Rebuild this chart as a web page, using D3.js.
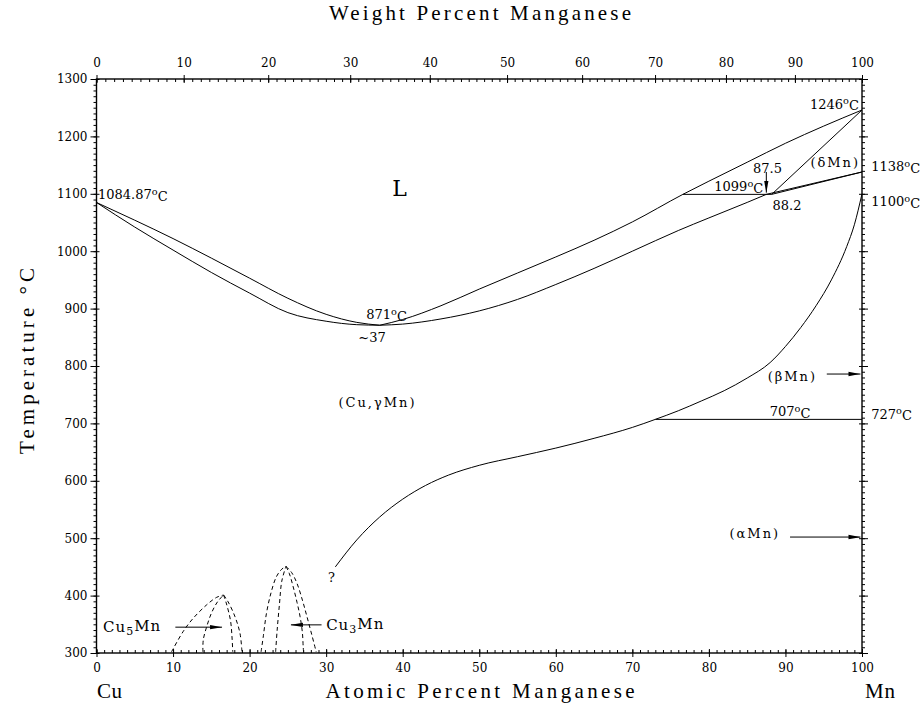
<!DOCTYPE html>
<style>
body { margin: 0; background: #fff; }
svg { font-family: "DejaVu Serif", serif; }
.axis line { stroke: #000; }
.axis text { font: 12px "DejaVu Serif", serif; fill: #000; }
.curve { fill: none; stroke: #000; stroke-width: 1; }
.dash { stroke-dasharray: 4,3; }
.note { font-size: 13px; fill: #000; }
.big { font: 21px "Liberation Serif", serif; fill: #000; }
</style>
<script src="https://cdnjs.cloudflare.com/ajax/libs/d3/7.8.5/d3.min.js"></script>
<svg width="922" height="710"></svg>
<script>
// ticks
var atTicks = [0, 10, 20, 30, 40, 50, 60, 70, 80, 90, 100];
var wtTicks = [0, 10, 20, 30, 40, 50, 60, 70, 80, 90, 100];
var tempTicks = [300, 400, 500, 600, 700, 800, 900, 1000, 1100, 1200, 1300];

// boundaries, [at% Mn, T in C]
var liquidusLeft = [[0,1084.87],[5,1054],[10,1022],[15,988],[20,953],[25,918],[30,890],[34,876],[37,871]];
var liquidusRight = [[37,871],[40,881],[45,905],[50,934],[55,962],[60,990],[65,1019],[70,1051],[76.6,1099],
  [80,1122],[85,1155],[90,1188],[95,1218],[100,1246]];
var solidusLeft = [[0,1084.87],[5,1042],[10,1002],[15,963],[20,927],[25,893],[30,878],[34,872],[37,871]];
var solidusRight = [[37,871],[40,873],[45,882],[50,896],[55,916],[60,942],[65,970],[70,1000],[76,1036],
  [80,1058],[85,1085],[87.5,1099]];
var deltaSolidus = [[88.2,1099],[100,1246]];
var deltaGamma1 = [[87.5,1099],[100,1138]];
var deltaGamma2 = [[88.2,1099],[100,1138]];
var peritectic = [[76.6,1099],[88.2,1099]];
var eutectoid = [[73,707],[100,707]];
var gammaBeta = [[31.2,450],[34,497],[37,537],[40,568],[43,592],[46,610],[50,627],[55,642],[60,657],[65,674],
  [70,693],[73,707],[76,722],[79,739],[82,757],[85,779],[88,806],[90,834],[92,867],[94,905],[96,950],[98,1008],[99,1046],[100,1100]];

// ordered phases (dashed)
var cu5mnOuterL = [[9.8,302],[11.3,337],[12.6,360],[14.4,384],[15.7,397],[16.6,401]];
var cu5mnOuterR = [[16.6,401],[17.2,389],[18.1,363],[18.75,334],[19,302]];
var cu5mnInnerL = [[13.9,302],[13.95,323],[14.4,346],[15,369],[15.8,389],[16.6,401]];
var cu5mnInnerR = [[16.6,401],[16.95,387],[17.5,357],[17.7,328],[17.8,302]];
var cu3mnOuterL = [[21.5,302],[21.8,330],[22.2,369],[22.8,405],[23.5,433],[24.2,446],[24.75,451]];
var cu3mnInnerL = [[23.4,302],[23.6,340],[23.9,385],[24.2,425],[24.75,451]];
var cu3mnInnerR = [[24.75,451],[25.2,438],[25.7,415],[26.2,388],[26.6,363],[26.9,335],[27,311],[27.05,302]];
var cu3mnOuterR = [[24.75,451],[25.5,440],[26.2,421],[26.9,392],[27.5,363],[28.1,333],[28.7,302]];

// labels [text, at%, T, anchor]
var labels = [
  ["1084.87°C", 0.2, 1098, "start"],
  ["1246°C", 99.6, 1256, "end"],
  ["1138°C", 101.2, 1147, "start"],
  ["1100°C", 101.2, 1086, "start"],
  ["(δMn)", 96.5, 1154, "middle"],
  ["87.5", 87.65, 1145, "middle"],
  ["1099°C", 83.9, 1112, "middle"],
  ["88.2", 90.2, 1079, "middle"],
  ["871°C", 37.9, 889, "middle"],
  ["~37", 36, 850, "middle"],
  ["(Cu,γMn)", 36.7, 737, "middle"],
  ["(βMn)", 90.9, 781, "middle"],
  ["707°C", 90.6, 720, "middle"],
  ["727°C", 101.2, 716, "start"],
  ["(αMn)", 86, 509, "middle"],
  ["?", 30.7, 432, "middle"]
];
var arrows = [[[95.4,786],[99.8,786]], [[90.6,502],[99.8,502]], [[10.3,345],[16.4,345]], [[29.4,349],[25.4,349]], [[87.5,1138],[87.5,1102]]];

var svg = d3.select("svg");

var x = d3.scaleLinear().domain([0, 100]).range([96.5, 862]),
    y = d3.scaleLinear().domain([300, 1300]).range([653, 79]);

function wt2at(w) {
  var m = w / 54.938, c = (100 - w) / 63.546;
  return 100 * m / (m + c);
}

function axis(gen, tx, ty, vals, size, fmt) {
  var a = gen.tickValues(vals).tickSize(size).tickSizeOuter(0);
  if (fmt) a.tickFormat(fmt); else a.tickFormat("");
  svg.append("g").attr("class", "axis")
      .attr("transform", "translate(" + tx + "," + ty + ")")
      .call(a)
      .call(function(g) { g.select(".domain").remove(); });
  return a;
}

var x0 = x(0), x1 = x(100), yb = y(300), yt = y(1300);

// bottom: atomic percent
axis(d3.axisBottom(x).tickPadding(6), 0, yb, atTicks, 4, d3.format("d"));
axis(d3.axisTop(x), 0, yb, atTicks, 4);
axis(d3.axisTop(x), 0, yb, d3.range(0, 101, 1), 3);

// top: weight percent
axis(d3.axisTop(x).tickPadding(8), 0, yt, wtTicks.map(wt2at), 4, function(d, i) { return wtTicks[i]; });
axis(d3.axisBottom(x), 0, yt, wtTicks.map(wt2at), 4);
axis(d3.axisBottom(x), 0, yt, d3.range(0, 101, 1).map(wt2at), 3);

// left and right: temperature
axis(d3.axisLeft(y).tickPadding(3), x0, 0, tempTicks, 6, d3.format("d"));
axis(d3.axisRight(y), x0, 0, tempTicks, 3);
axis(d3.axisLeft(y), x0, 0, d3.range(300, 1301, 10), 3);
axis(d3.axisRight(y), x1, 0, tempTicks, 6);
axis(d3.axisLeft(y), x1, 0, tempTicks, 3);
axis(d3.axisRight(y), x1, 0, d3.range(300, 1301, 10), 3);

svg.append("rect")
    .attr("x", x0).attr("y", yt)
    .attr("width", x1 - x0).attr("height", yb - yt)
    .attr("fill", "none").attr("stroke", "#000").attr("stroke-width", 1.4);

var smooth = d3.line().x(function(d) { return x(d[0]); }).y(function(d) { return y(d[1]); })
    .curve(d3.curveMonotoneX);
var round = d3.line().x(function(d) { return x(d[0]); }).y(function(d) { return y(d[1]); })
    .curve(d3.curveCatmullRom.alpha(0.5));
var straight = d3.line().x(function(d) { return x(d[0]); }).y(function(d) { return y(d[1]); });

[liquidusLeft, liquidusRight, solidusLeft, solidusRight, gammaBeta].forEach(function(d) {
  svg.append("path").attr("class", "curve").attr("d", smooth(d));
});
[deltaSolidus, deltaGamma1, deltaGamma2, peritectic, eutectoid].forEach(function(d) {
  svg.append("path").attr("class", "curve").attr("d", straight(d));
});
[cu5mnOuterL, cu5mnOuterR, cu5mnInnerL, cu5mnInnerR, cu3mnOuterL, cu3mnOuterR, cu3mnInnerL, cu3mnInnerR].forEach(function(d) {
  svg.append("path").attr("class", "curve dash").attr("d", round(d));
});

svg.append("defs").append("marker")
    .attr("id", "head").attr("viewBox", "0 0 12 6")
    .attr("refX", 12).attr("refY", 3)
    .attr("markerWidth", 12).attr("markerHeight", 6)
    .attr("markerUnits", "userSpaceOnUse").attr("orient", "auto")
  .append("path").attr("d", "M0,0.8L12,3L0,5.2Z").attr("fill", "#000");

arrows.forEach(function(d) {
  svg.append("path").attr("class", "curve").attr("d", straight(d)).attr("marker-end", "url(#head)");
});

// text with raised "o" for the degree sign
function label(t, px, py, anchor, size, sp) {
  var txt = svg.append("text").attr("class", "note")
      .attr("x", px).attr("y", py).attr("dy", "0.35em")
      .attr("text-anchor", anchor)
      .style("font-size", size + "px")
      .style("letter-spacing", (sp || 0) + "px");
  var parts = t.split("°");
  txt.append("tspan").text(parts[0]);
  if (parts.length > 1) {
    txt.append("tspan").attr("dy", "-0.45em").style("font-size", (size * 0.75) + "px").text("o");
    txt.append("tspan").attr("dy", "0.45em").text(parts[1]);
  }
  return txt;
}

labels.forEach(function(d) {
  var sp = d[0].indexOf("Mn") >= 0 ? 2 : 0;
  label(d[0], x(d[1]), y(d[2]), d[3], 13, sp);
});
label("L", x(39.6), y(1110), "middle", 22);

function formula(sub, px, py) {
  var t = svg.append("text").attr("class", "note")
      .attr("x", px).attr("y", py).attr("dy", "0.35em")
      .style("font-size", "15px").style("letter-spacing", "1px");
  t.append("tspan").text("Cu");
  t.append("tspan").attr("dy", "0.25em").style("font-size", "11px").text(sub);
  t.append("tspan").attr("dy", "-0.25em").text("Mn");
}
formula("5", x(0.85), y(345));
formula("3", x(30), y(349));

// axis titles
svg.append("text").attr("class", "big").attr("x", 480).attr("y", 20)
    .attr("text-anchor", "middle").attr("textLength", 302).attr("lengthAdjust", "spacing")
    .text("Weight Percent Manganese");
svg.append("text").attr("class", "big").attr("x", 480).attr("y", 698)
    .attr("text-anchor", "middle").attr("textLength", 309).attr("lengthAdjust", "spacing")
    .text("Atomic Percent Manganese");
svg.append("text").attr("class", "big").attr("x", 97).attr("y", 698)
    .attr("textLength", 25).attr("lengthAdjust", "spacing").text("Cu");
svg.append("text").attr("class", "big").attr("x", 865).attr("y", 698)
    .attr("textLength", 30).attr("lengthAdjust", "spacing").text("Mn");
svg.append("text").attr("class", "big")
    .attr("transform", "translate(34,361) rotate(-90)")
    .attr("text-anchor", "middle").attr("textLength", 186).attr("lengthAdjust", "spacing")
    .text("Temperature °C");
</script>
